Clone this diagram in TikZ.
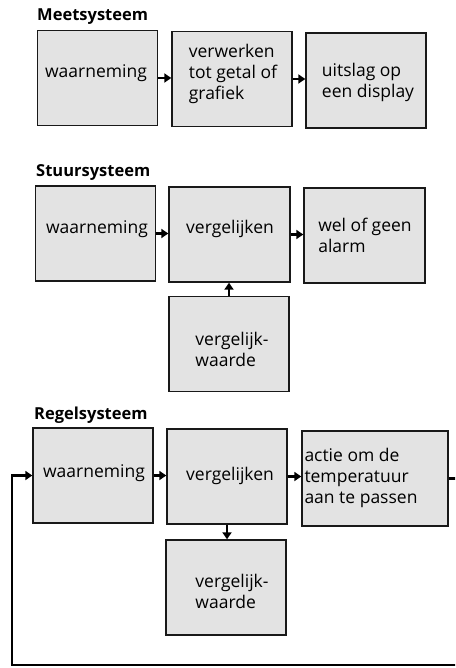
\documentclass[tikz,border=0pt]{standalone}
\usepackage{fontspec}
\setmainfont{Open Sans}
\usetikzlibrary{arrows.meta}
\begin{document}
\begin{tikzpicture}[x=1pt,y=-1pt,
  box/.style={draw=black!90, line width=1.4pt, fill=black!11, minimum width=120, minimum height=95, inner sep=0pt},
  lbl/.style={font=\fontsize{17.5}{21}\selectfont, align=left, inner sep=0pt, text=black},
  ttl/.style={font=\fontsize{16.5}{19}\selectfont\bfseries, inner sep=0pt, anchor=west},
  arr/.style={line width=2.4pt, -{Triangle[length=7pt,width=9pt]}}
]
\useasboundingbox (0,0) rectangle (455,668);
\clip (0,0) rectangle (455,668);

% Meetsysteem
\node[ttl] (t1) at (37,17) {Meetsysteem};
\node[box] (m1) at (97.5,78) {};
\node[box] (m2) at (232,79) {};
\node[box] (m3) at (366,80.5) {};
\node[lbl] (m1t) at (96,73) {waarneming};
\node[lbl] (m2t) at (233,74) {verwerken\\tot getal of\\grafiek};
\node[lbl] (m3t) at (368,82) {uitslag op\\een display};
\draw[arr] (m1.east) -- (m1.east -| m2.west);
\draw[arr] (m2.east) -- (m2.east -| m3.west);

% Stuursysteem
\node[ttl] (t2) at (36,173) {Stuursysteem};
\node[box] (s1) at (95.5,233.5) {};
\node[box, minimum width=121] (s2) at (229.5,234.5) {};
\node[box, minimum width=121] (s3) at (364.5,235.5) {};
\node[box] (s4) at (229,344) {};
\node[lbl] (s1t) at (97,229) {waarneming};
\node[lbl] (s2t) at (230,229) {vergelijken};
\node[lbl] (s3t) at (365,235) {wel of geen\\alarm};
\node[lbl] (s4t) at (232,349) {vergelijk-\\waarde};
\draw[arr] (s1.east) -- (s1.east -| s2.west);
\draw[arr] (s2.east) -- (s2.east -| s3.west);
\draw[arr] (s4.north) -- (s4.north |- s2.south);

% Regelsysteem
\node[ttl] (t3) at (34,415) {Regelsysteem};
\node[box] (r1) at (93,475.5) {};
\node[box] (r2) at (227,476.5) {};
\node[box, minimum width=146] (r3) at (375,478.5) {};
\node[box] (r4) at (226,587.5) {};
\node[lbl] (r1t) at (94,473) {waarneming};
\node[lbl] (r2t) at (230,476) {vergelijken};
\node[lbl] (r3t) at (361,478) {actie om de\\temperatuur\\aan te passen};
\node[lbl] (r4t) at (232,591) {vergelijk-\\waarde};
\draw[arr] (r1.east) -- (r1.east -| r2.west);
\draw[arr] (r2.east) -- (r2.east -| r3.west);
\draw[arr] (r2.south) -- (r2.south |- r4.north);

% feedback
\coordinate (fbR) at (462,665);
\coordinate (fbL) at (12,665);
\draw[arr] (r3.east) -| (fbR) -- (fbL) |- (r1.west);
\end{tikzpicture}
\end{document}
